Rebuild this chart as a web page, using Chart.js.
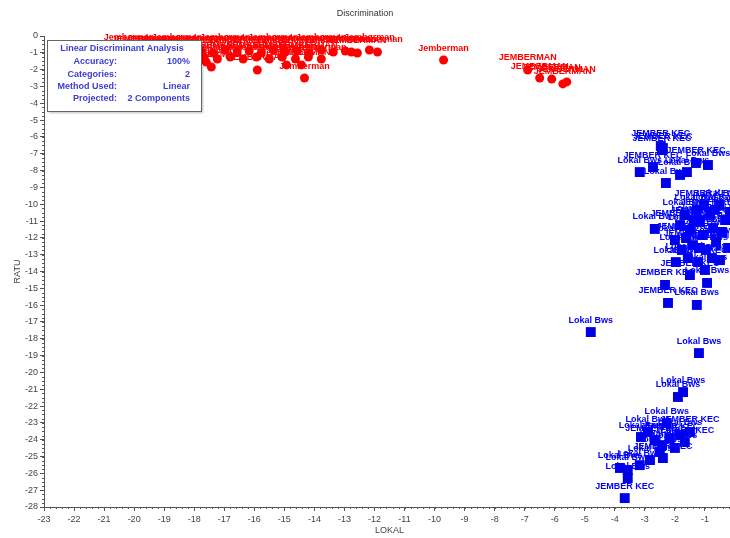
<!DOCTYPE html>
<html>
<head>
<meta charset="utf-8">
<script src="https://cdn.jsdelivr.net/npm/chart.js@4"></script>
<style>
  html, body { margin: 0; padding: 0; background: #fff; overflow: hidden; }
  #wrap { width: 760px; height: 538px; }
</style>
</head>
<body>
<div id="wrap"><canvas id="discChart" width="760" height="538"></canvas></div>
<script>
// group 1 (red circles) - LOKAL / RATU coordinates
const redX = [-20.17, -19.77, -19.37, -18.97, -18.57, -18.17, -17.77, -17.37, -16.97, -16.57, -16.17, -15.77, -15.37, -14.97, -14.57, -14.17, -13.77, -13.37, -12.97, -12.57, -12.17,
  -17.67, -17.23, -16.8, -16.37, -15.93, -15.5, -15.07, -14.63, -14.2, -13.77,
  -17.6, -17.43, -15.9, -14.93, -14.43, -14.33, -12.77, -11.9,
  -9.7, -6.9, -6.5, -6.1, -5.73, -5.6];
const redY = [-0.83, -0.95, -0.89, -1.01, -0.83, -0.95, -0.89, -1.01, -0.83, -0.95, -0.89, -1.01, -0.83, -0.95, -0.89, -1.01, -0.83, -0.95, -0.89, -1.01, -0.83,
  -1.25, -1.37, -1.25, -1.37, -1.25, -1.37, -1.25, -1.37, -1.25, -1.37,
  -1.55, -1.84, -2.02, -1.72, -1.72, -2.5, -0.95, -0.95,
  -1.43, -2.02, -2.5, -2.56, -2.85, -2.73];
const redNames = ["Jemberman", "JEMBERMAN", "Jemberman", "JEMBERMAN", "Jemberman", "JEMBERMAN", "Jemberman", "JEMBERMAN", "Jemberman", "JEMBERMAN", "Jemberman", "JEMBERMAN", "Jemberman", "JEMBERMAN", "Jemberman", "JEMBERMAN", "Jemberman", "JEMBERMAN", "Jemberman", "JEMBERMAN", "Jemberman",
  "JEMBERMAN", "Jemberman", "JEMBERMAN", "Jemberman", "JEMBERMAN", "Jemberman", "JEMBERMAN", "Jemberman", "JEMBERMAN", "Jemberman",
  "Jemberman", "JEMBERMAN", "JEMBERMAN", "Jemberman", "JEMBERMAN", "Jemberman", "Jemberman", "Jemberman",
  "Jemberman", "JEMBERMAN", "JEMBERMAN", "JEMBERMAN", "JEMBERMAN", "JEMBERMAN"];

// group 2 (blue squares)
const blueX = [-2.47, -2.4, -2.43, -3.17, -2.73, -2.3, -1.83, -1.6, -1.3, -0.9,
  -2.67, -2.0, -1.83, -1.67, -1.5, -1.4, -1.27, -1.17, -1.07, -0.97, -0.83, -0.73, -0.63, -0.53, -0.43, -0.33, -0.23,
  -1.57, -1.23, -0.77, -1.77, -1.97, -1.03, -1.37, -0.5, -0.17, -1.63, -1.17, -0.67,
  -2.33, -0.93, -2.23, -1.27, -1.5, -1.0,
  -4.8, -1.2, -1.73, -1.9, -2.27,
  -3.13, -2.9, -2.67, -2.43, -2.17, -1.83, -1.5, -2.5, -2.4, -2.83, -3.17, -3.57, -3.83, -3.57, -3.67, -2.0, -1.67];
const blueY = [-6.54, -6.66, -6.78, -8.09, -7.79, -8.74, -8.26, -8.09, -7.55, -7.67,
  -11.47, -12.13, -11.24, -10.64, -11.53, -12.43, -10.34, -11.06, -11.83, -12.72, -10.64, -11.42, -12.25, -10.05, -11.65, -10.94, -12.6,
  -13.2, -13.44, -13.2, -12.72, -13.44, -10.05, -10.94, -13.32, -10.46, -12.01, -12.6, -10.34,
  -14.8, -14.68, -15.87, -15.99, -14.21, -13.91,
  -17.6, -18.85, -21.17, -21.46, -23.01,
  -23.84, -23.54, -24.02, -24.32, -23.9, -23.72, -23.54, -24.73, -25.09, -25.21, -25.51, -25.8, -25.68, -26.28, -27.47, -24.49, -24.14];
const blueNames = ["JEMBER KEC", "JEMBER KEC", "JEMBER KEC", "Lokal Bws", "JEMBER KEC", "Lokal Bws", "Lokal Bws", "Lokal Bws", "JEMBER KEC", "Lokal Bws",
  "Lokal Bws", "Lokal Bws", "JEMBER KEC", "Lokal Bws", "Lokal Bws", "JEMBER KEC", "Lokal Bws", "JEMBER KEC", "Lokal Bws", "Lokal Bws", "JEMBER KEC", "Lokal Bws", "Lokal Bws", "Lokal Bws", "JEMBER KEC", "Lokal Bws", "Lokal Bws",
  "Lokal Bws", "JEMBER KEC", "Lokal Bws", "Lokal Bws", "Lokal Bws", "JEMBER KEC", "Lokal Bws", "Lokal Bws", "Lokal Bws", "JEMBER KEC", "Lokal Bws", "Lokal Bws",
  "JEMBER KEC", "Lokal Bws", "JEMBER KEC", "Lokal Bws", "JEMBER KEC", "Lokal Bws",
  "Lokal Bws", "Lokal Bws", "Lokal Bws", "Lokal Bws", "Lokal Bws",
  "Lokal Bws", "Lokal Bws", "JEMBER KEC", "Lokal Bws", "JEMBER KEC", "Lokal Bws", "JEMBER KEC", "Lokal Bws", "JEMBER KEC", "Lokal Bws", "Lokal Bws", "Lokal Bws", "Lokal Bws", "Lokal Bws", "JEMBER KEC", "Lokal Bws", "JEMBER KEC"];

const summaryRows = [
  ["Accuracy:", "100%"],
  ["Categories:", "2"],
  ["Method Used:", "Linear"],
  ["Projected:", "2 Components"]
];

const toPoints = (xs, ys) => xs.map((x, i) => ({ x: x, y: ys[i] }));

// names above each point
const pointNames = {
  id: 'pointNames',
  afterDatasetsDraw(chart) {
    const ctx = chart.ctx;
    ctx.save();
    ctx.font = 'bold 9px "Liberation Sans", Arial, sans-serif';
    ctx.textAlign = 'center';
    ctx.textBaseline = 'middle';
    chart.data.datasets.forEach((ds, i) => {
      const meta = chart.getDatasetMeta(i);
      ctx.fillStyle = ds.nameColor;
      meta.data.forEach((pt, j) => ctx.fillText(ds.names[j], pt.x, pt.y - 12));
    });
    ctx.restore();
  }
};

// minor ticks, title and the summary box
const decorations = {
  id: 'decorations',
  afterDraw(chart) {
    const ctx = chart.ctx;
    const xs = chart.scales.x, ys = chart.scales.y;
    const area = chart.chartArea;
    ctx.save();
    ctx.strokeStyle = '#555';
    ctx.lineWidth = 1;
    ctx.beginPath();
    for (let v = -23; v < 0; v += 0.2) {
      const px = Math.round(xs.getPixelForValue(v)) + 0.5;
      ctx.moveTo(px, area.bottom);
      ctx.lineTo(px, area.bottom + 2);
    }
    for (let v = -28; v < 0; v += 0.25) {
      const py = Math.round(ys.getPixelForValue(v)) + 0.5;
      ctx.moveTo(area.left - 2, py);
      ctx.lineTo(area.left, py);
    }
    ctx.stroke();

    ctx.fillStyle = '#333';
    ctx.font = '9px "Liberation Sans", Arial, sans-serif';
    ctx.textAlign = 'center';
    ctx.textBaseline = 'middle';
    ctx.fillText('Discrimination', 365, 14);

    // summary box
    ctx.shadowColor = 'rgba(0,0,0,0.25)';
    ctx.shadowOffsetX = 2;
    ctx.shadowOffsetY = 2;
    ctx.shadowBlur = 2;
    ctx.fillStyle = '#fff';
    ctx.fillRect(47, 40, 154, 71);
    ctx.shadowColor = 'transparent';
    ctx.strokeStyle = '#666';
    ctx.strokeRect(47.5, 40.5, 154, 71);

    ctx.fillStyle = '#3c3cd6';
    ctx.font = 'bold 9px "Liberation Sans", Arial, sans-serif';
    ctx.textAlign = 'center';
    ctx.fillText('Linear Discriminant Analysis', 122, 49);
    summaryRows.forEach((row, i) => {
      const y = 62 + i * 12.3;
      ctx.textAlign = 'right';
      ctx.fillText(row[0], 117, y);
      ctx.fillText(row[1], 190, y);
    });
    ctx.restore();
  }
};

const ctx = document.getElementById('discChart');
new Chart(ctx, {
  type: 'scatter',
  data: {
    datasets: [{
      label: 'Jemberman',
      data: toPoints(redX, redY),
      names: redNames,
      nameColor: '#ff0000',
      pointStyle: 'circle',
      pointRadius: 4.5,
      backgroundColor: '#ff0000',
      borderColor: '#ff0000',
      borderWidth: 0
    }, {
      label: 'Lokal Bws',
      data: toPoints(blueX, blueY),
      names: blueNames,
      nameColor: '#0000ff',
      pointStyle: 'rect',
      pointRadius: 7,
      backgroundColor: '#0000e6',
      borderColor: '#0000e6',
      borderWidth: 0
    }]
  },
  options: {
    responsive: false,
    animation: false,
    layout: { padding: { top: 36, right: 25, left: 0, bottom: 0 } },
    scales: {
      x: {
        type: 'linear',
        min: -23,
        max: 0,
        afterFit: s => { s.height = 31; },
        border: { display: true, color: '#555', width: 1 },
        grid: { drawOnChartArea: false, drawTicks: true, tickLength: 4, color: '#555' },
        ticks: { stepSize: 1, padding: 3, color: '#444', font: { family: '"Liberation Sans", Arial', size: 9 } },
        title: { display: true, text: 'LOKAL', color: '#444', padding: { top: 0, bottom: 2 }, font: { family: '"Liberation Sans", Arial', size: 9 } }
      },
      y: {
        type: 'linear',
        min: -28,
        max: 0,
        afterFit: s => { s.width = 44; },
        border: { display: true, color: '#555', width: 1 },
        grid: { drawOnChartArea: false, drawTicks: true, tickLength: 4, color: '#555' },
        ticks: { stepSize: 1, padding: 2, color: '#444', font: { family: '"Liberation Sans", Arial', size: 9 } },
        title: { display: true, text: 'RATU', color: '#444', padding: { top: 12, bottom: 0 }, font: { family: '"Liberation Sans", Arial', size: 9 } }
      }
    },
    plugins: {
      legend: { display: false },
      tooltip: { enabled: false },
      title: { display: false }
    }
  },
  plugins: [pointNames, decorations]
});
</script>
</body>
</html>
